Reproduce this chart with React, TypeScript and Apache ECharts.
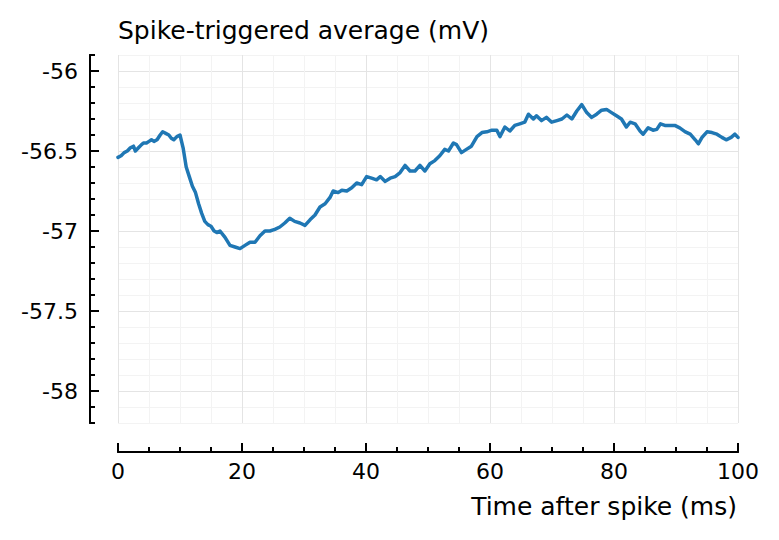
import React, { useEffect, useRef } from "react";
import * as echarts from "echarts";

const timesMs: number[] = [
  0, 0.5, 1, 1.5, 2, 2.5, 2.8, 3.3, 3.8, 4.1, 4.6, 5, 5.4, 5.8, 6.3, 6.8, 7.2, 7.7, 8.2, 8.6, 9, 9.5, 10,
  10.5, 11, 11.5, 12, 12.5, 13, 13.5, 14, 14.5, 15, 15.5, 16, 16.45, 17.26, 18.06, 18.87, 19.68, 20.48,
  21.29, 22.1, 22.9, 23.7, 24.5, 25.3, 26.1, 26.9, 27.7, 28.5, 29.35, 30.16, 30.97, 31.77, 32.58, 33.4,
  34.2, 34.7, 35.5, 36.1, 36.9, 37.7, 38.5, 39.3, 40.1, 40.9, 41.7, 42.3, 43.1, 43.9, 44.7, 45.5, 46.3,
  47.1, 47.9, 48.7, 49.5, 50.3, 51.1, 51.9, 52.7, 53.3, 54.1, 54.6, 55.4, 56.2, 57, 57.9, 58.7, 59.5,
  60.3, 61.1, 61.6, 62.4, 63.2, 64, 64.8, 65.6, 66.2, 67, 67.5, 68.3, 69.1, 69.95, 70.8, 71.6, 72.4,
  73.2, 74, 74.8, 75.6, 76.4, 77.2, 78, 78.8, 79.6, 80.4, 81.2, 82, 82.6, 83.4, 84.2, 84.7, 85.5, 86.3,
  86.9, 87.5, 88.2, 89, 89.8, 90.6, 91.5, 92.3, 93.1, 93.6, 94.2, 95, 95.8, 96.6, 97.4, 98.1, 98.9,
  99.5, 100,
];

const staValues: number[] = [
  -56.54, -56.53, -56.51, -56.5, -56.48, -56.47, -56.5, -56.48, -56.46, -56.45, -56.45, -56.44, -56.43,
  -56.44, -56.43, -56.4, -56.38, -56.39, -56.4, -56.42, -56.43, -56.41, -56.4,
  -56.48, -56.6, -56.66, -56.72, -56.76, -56.83, -56.89, -56.94, -56.96, -56.97, -57.0, -57.01, -57.0,
  -57.04, -57.09, -57.1, -57.11, -57.09, -57.07, -57.07, -57.03, -57.0, -57.0, -56.99, -56.975, -56.95,
  -56.92, -56.94, -56.95, -56.965, -56.93, -56.9, -56.85, -56.83,
  -56.79, -56.75, -56.76, -56.745, -56.75, -56.73, -56.7, -56.71, -56.66, -56.67, -56.68, -56.66,
  -56.69, -56.67, -56.66, -56.635, -56.59, -56.625, -56.625, -56.59, -56.625, -56.58, -56.56, -56.53,
  -56.49, -56.5, -56.45, -56.46, -56.51, -56.49, -56.47, -56.41, -56.385, -56.38,
  -56.37, -56.37, -56.41, -56.35, -56.375, -56.34, -56.33, -56.32, -56.27, -56.3, -56.28, -56.31,
  -56.29, -56.32, -56.31, -56.3, -56.275, -56.3, -56.25, -56.21, -56.26, -56.29, -56.27, -56.245,
  -56.24, -56.26, -56.28, -56.3, -56.35, -56.32, -56.33, -56.375, -56.395, -56.355, -56.37, -56.365,
  -56.33, -56.34, -56.34, -56.34, -56.355, -56.38, -56.395, -56.43, -56.455, -56.415, -56.38, -56.385,
  -56.395, -56.415, -56.43, -56.415, -56.395, -56.415,
];

const yMajorTicks: number[] = [-58, -57.5, -57, -56.5, -56];
const titleText = "Spike-triggered average (mV)";
const xAxisName = "Time after spike (ms)";

const FONT = "DejaVu Sans";

export default function App() {
  const ref = useRef<HTMLDivElement>(null);

  useEffect(() => {
    if (!ref.current) return;
    const chart = echarts.init(ref.current, null, { renderer: "svg" });
    const data = timesMs.map((t, i) => [t, staValues[i]]);
    const majorGrid = "#e4e4e4";
    const minorGrid = "#f3f3f3";

    chart.setOption({
      animation: false,
      backgroundColor: "#ffffff",
      title: {
        text: titleText,
        left: 118,
        top: 18,
        padding: 0,
        textStyle: { fontFamily: FONT, fontSize: 25, fontWeight: "normal", color: "#000" },
      },
      grid: { left: 118, right: 41, top: 55, bottom: 117, containLabel: false },
      xAxis: [
        {
          type: "value",
          min: 0,
          max: 100,
          interval: 5,
          position: "bottom",
          offset: 29,
          axisLine: { show: true, onZero: false, lineStyle: { color: "#000", width: 2 } },
          axisTick: { show: true, inside: true, length: 5, lineStyle: { color: "#000", width: 2 } },
          axisLabel: { show: false },
          splitLine: { show: true, lineStyle: { color: minorGrid, width: 1 } },
        },
        {
          type: "value",
          min: 0,
          max: 100,
          interval: 20,
          position: "bottom",
          offset: 29,
          name: xAxisName,
          nameLocation: "end",
          nameGap: -1,
          nameTextStyle: {
            fontFamily: FONT,
            fontSize: 25,
            color: "#000",
            align: "right",
            verticalAlign: "top",
            padding: [42, 0, 0, 0],
          },
          axisLine: { show: true, onZero: false, lineStyle: { color: "#000", width: 2 } },
          axisTick: { show: true, inside: true, length: 9, lineStyle: { color: "#000", width: 2 } },
          axisLabel: { show: true, fontFamily: FONT, fontSize: 22, color: "#000", margin: 8 },
          splitLine: { show: true, lineStyle: { color: majorGrid, width: 1 } },
        },
      ],
      yAxis: [
        {
          type: "value",
          min: -58.2,
          max: -55.9,
          interval: 0.1,
          position: "left",
          offset: 28,
          axisLine: { show: true, onZero: false, lineStyle: { color: "#000", width: 2 } },
          axisTick: { show: true, inside: true, length: 5, lineStyle: { color: "#000", width: 2 } },
          axisLabel: { show: false },
          splitLine: { show: true, lineStyle: { color: minorGrid, width: 1 } },
        },
        {
          type: "value",
          min: -58.2,
          max: -55.9,
          position: "left",
          offset: 28,
          axisLine: { show: true, onZero: false, lineStyle: { color: "#000", width: 2 } },
          axisTick: {
            show: true,
            inside: true,
            length: 9,
            customValues: yMajorTicks,
            lineStyle: { color: "#000", width: 2 },
          },
          axisLabel: {
            show: true,
            customValues: yMajorTicks,
            fontFamily: FONT,
            fontSize: 22,
            color: "#000",
            margin: 12,
            formatter: (v: number) => String(v),
          },
          splitLine: { show: true, lineStyle: { color: majorGrid, width: 1 } },
        },
      ],
      series: [
        {
          type: "line",
          xAxisIndex: 0,
          yAxisIndex: 0,
          data,
          showSymbol: false,
          symbol: "none",
          lineStyle: { color: "#1f77b4", width: 3.5, join: "round", cap: "round" },
        },
      ],
    });

    return () => chart.dispose();
  }, []);

  return (
    <div
      ref={ref}
      style={{ position: "fixed", left: 0, top: 0, width: 779, height: 540, background: "#fff" }}
    />
  );
}
